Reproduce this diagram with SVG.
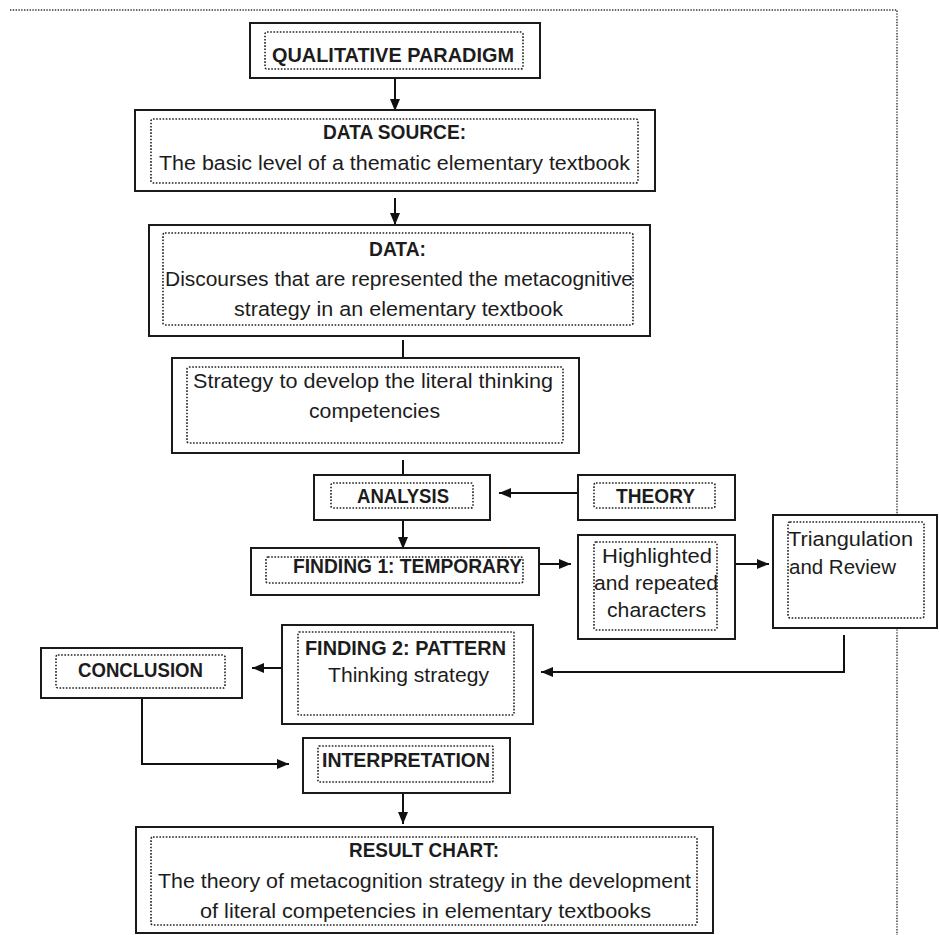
<svg xmlns="http://www.w3.org/2000/svg" width="939" height="935" viewBox="0 0 939 935">
<defs>
<style>
.o{fill:#fff;stroke:#1a1a1a;stroke-width:2}
.i{fill:none;stroke:#222;stroke-width:1.6;stroke-dasharray:1.6 1.6}
.f{fill:none;stroke:#333;stroke-width:1.4;stroke-dasharray:1.4 1.4}
.c{fill:none;stroke:#111;stroke-width:2}
.b{font-family:"Liberation Sans",Arial,sans-serif;font-weight:bold;font-size:20px;fill:#1c1c1c}
.n{font-family:"Liberation Sans",Arial,sans-serif;font-size:20.5px;fill:#1c1c1c}
</style>
<marker id="ah" viewBox="0 0 12 10" refX="12" refY="5" markerWidth="12" markerHeight="10" markerUnits="userSpaceOnUse" orient="auto">
<path d="M0,0 L12,5 L0,10 z" fill="#111"/>
</marker>
</defs>
<rect width="939" height="935" fill="#fff"/>
<g id="frame">
<path class="f" d="M10,10 H897 V935"/>
</g>
<g id="connectors">
<path class="c" d="M395,78 V111" marker-end="url(#ah)"/>
<path class="c" d="M395,198 V225" marker-end="url(#ah)"/>
<path class="c" d="M403,340 V358"/>
<path class="c" d="M403,460 V475"/>
<path class="c" d="M578,493 H499" marker-end="url(#ah)"/>
<path class="c" d="M403,520 V549" marker-end="url(#ah)"/>
<path class="c" d="M539,564 H571" marker-end="url(#ah)"/>
<path class="c" d="M735,564 H769" marker-end="url(#ah)"/>
<path class="c" d="M844,635 V672 H541" marker-end="url(#ah)"/>
<path class="c" d="M282,668 H252" marker-end="url(#ah)"/>
<path class="c" d="M142,698 V764 H289" marker-end="url(#ah)"/>
<path class="c" d="M403,793 V824" marker-end="url(#ah)"/>
</g>
<g id="qualitative-paradigm">
<rect class="o" x="250" y="23" width="290" height="55"/>
<rect class="i" x="265" y="32" width="258" height="37" rx="2"/>
<text class="b" x="272" y="62" font-size="23" textLength="242" lengthAdjust="spacingAndGlyphs">QUALITATIVE PARADIGM</text>
</g>
<g id="data-source">
<rect class="o" x="135" y="110" width="520" height="81"/>
<rect class="i" x="151" y="119" width="487" height="64" rx="2"/>
<text class="b" x="323" y="139" textLength="143" lengthAdjust="spacingAndGlyphs">DATA SOURCE:</text>
<text class="n" x="159" y="170" textLength="471" lengthAdjust="spacingAndGlyphs">The basic level of a thematic elementary textbook</text>
</g>
<g id="data">
<rect class="o" x="149" y="225" width="501" height="111"/>
<rect class="i" x="163" y="233" width="470" height="92" rx="2"/>
<text class="b" x="369" y="256" textLength="57" lengthAdjust="spacingAndGlyphs">DATA:</text>
<text class="n" x="165" y="286" textLength="468" lengthAdjust="spacingAndGlyphs">Discourses that are represented the metacognitive</text>
<text class="n" x="234" y="316" textLength="329" lengthAdjust="spacingAndGlyphs">strategy in an elementary textbook</text>
</g>
<g id="strategy">
<rect class="o" x="172" y="358" width="407" height="95"/>
<rect class="i" x="187" y="367" width="376" height="76" rx="2"/>
<text class="n" x="193" y="388" textLength="360" lengthAdjust="spacingAndGlyphs">Strategy to develop the literal thinking</text>
<text class="n" x="309" y="418" textLength="131" lengthAdjust="spacingAndGlyphs">competencies</text>
</g>
<g id="analysis">
<rect class="o" x="314" y="475" width="176" height="45"/>
<rect class="i" x="331" y="483" width="142" height="25" rx="2"/>
<text class="b" x="357" y="503" textLength="92" lengthAdjust="spacingAndGlyphs">ANALYSIS</text>
</g>
<g id="theory">
<rect class="o" x="578" y="475" width="157" height="45"/>
<rect class="i" x="594" y="483" width="121" height="25" rx="2"/>
<text class="b" x="616" y="503" textLength="79" lengthAdjust="spacingAndGlyphs">THEORY</text>
</g>
<g id="finding-1">
<rect class="o" x="251" y="548" width="288" height="47"/>
<rect class="i" x="266" y="557" width="257" height="26" rx="2"/>
<text class="b" x="293" y="573" textLength="229" lengthAdjust="spacingAndGlyphs">FINDING 1: TEMPORARY</text>
</g>
<g id="highlighted">
<rect class="o" x="578" y="535" width="157" height="104"/>
<rect class="i" x="594" y="542" width="123" height="88" rx="2"/>
<text class="n" x="602" y="563" textLength="110" lengthAdjust="spacingAndGlyphs">Highlighted</text>
<text class="n" x="594" y="590" textLength="124" lengthAdjust="spacingAndGlyphs">and repeated</text>
<text class="n" x="607" y="617" textLength="99" lengthAdjust="spacingAndGlyphs">characters</text>
</g>
<g id="triangulation">
<rect class="o" x="773" y="515" width="164" height="113"/>
<rect class="i" x="788" y="522" width="136" height="96" rx="2"/>
<text class="n" x="788" y="546" textLength="125" lengthAdjust="spacingAndGlyphs">Triangulation</text>
<text class="n" x="789" y="574" textLength="107" lengthAdjust="spacingAndGlyphs">and Review</text>
</g>
<g id="finding-2">
<rect class="o" x="282" y="625" width="251" height="99"/>
<rect class="i" x="298" y="632" width="216" height="83" rx="1"/>
<text class="b" x="305" y="655" textLength="201" lengthAdjust="spacingAndGlyphs">FINDING 2: PATTERN</text>
<text class="n" x="328" y="682" textLength="161" lengthAdjust="spacingAndGlyphs">Thinking strategy</text>
</g>
<g id="conclusion">
<rect class="o" x="41" y="648" width="201" height="50"/>
<rect class="i" x="56" y="655" width="169" height="33" rx="2"/>
<text class="b" x="78" y="677" textLength="125" lengthAdjust="spacingAndGlyphs">CONCLUSION</text>
</g>
<g id="interpretation">
<rect class="o" x="303" y="738" width="207" height="55"/>
<rect class="i" x="318" y="746" width="175" height="36" rx="1"/>
<text class="b" x="322" y="767" textLength="168" lengthAdjust="spacingAndGlyphs">INTERPRETATION</text>
</g>
<g id="result-chart">
<rect class="o" x="136" y="827" width="577" height="106"/>
<rect class="i" x="151" y="837" width="546" height="88" rx="2"/>
<text class="b" x="349" y="857" textLength="150" lengthAdjust="spacingAndGlyphs">RESULT CHART:</text>
<text class="n" x="158" y="888" textLength="533" lengthAdjust="spacingAndGlyphs">The theory of metacognition strategy in the development</text>
<text class="n" x="200" y="918" textLength="451" lengthAdjust="spacingAndGlyphs">of literal competencies in elementary textbooks</text>
</g>
</svg>
